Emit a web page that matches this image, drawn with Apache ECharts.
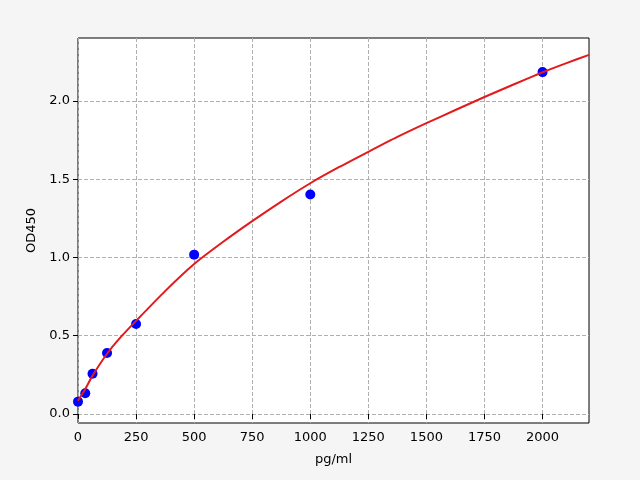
<!DOCTYPE html>
<html>
<head>
<meta charset="utf-8">
<script src="https://cdn.jsdelivr.net/npm/echarts@6/dist/echarts.min.js"></script>
<style>
  html, body { margin: 0; padding: 0; background: #f5f5f5; }
  #main { width: 640px; height: 480px; }
</style>
</head>
<body>
<div id="main"></div>
<script>
// 标准品浓度和读数
var conc = [0, 31.25, 62.5, 125, 250, 500, 1000, 2000];
var od = [0.079, 0.133, 0.257, 0.39, 0.575, 1.018, 1.402, 2.184];

// 拟合曲线
var fitX = [0, 31.25, 62.5, 125, 187.5, 250, 375, 500, 625, 750, 875, 1000, 1125, 1250,
    1375, 1500, 1625, 1750, 1875, 2000, 2100, 2200];
var fitY = [0.085, 0.16, 0.245, 0.385, 0.497, 0.595, 0.785, 0.958, 1.1, 1.232, 1.357, 1.474, 1.578, 1.675,
    1.77, 1.858, 1.942, 2.025, 2.105, 2.183, 2.24, 2.294];

var xTicks = [0, 250, 500, 750, 1000, 1250, 1500, 1750, 2000];
var yTicks = [0, 0.5, 1.0, 1.5, 2.0];

var font = 'DejaVu Sans';

var chart = echarts.init(document.getElementById('main'));

var points = conc.map(function(c, i) { return [c, od[i]]; });
var curve = fitX.map(function(c, i) { return [c, fitY[i]]; });

var option = {
    backgroundColor: '#f5f5f5',
    animation: false,
    grid: {
        left: 78,
        right: 51,
        top: 38,
        bottom: 57,
        show: true,
        backgroundColor: '#fff',
        borderColor: '#000',
        borderWidth: 1
    },
    xAxis: {
        type: 'value',
        min: 0,
        max: 2200,
        name: 'pg/ml',
        nameLocation: 'middle',
        nameGap: 30,
        nameTextStyle: { color: '#000', fontFamily: font, fontSize: 13 },
        axisLine: { show: false },
        axisTick: {
            show: true, inside: false, length: 5,
            lineStyle: { color: '#000' },
            customValues: xTicks
        },
        axisLabel: {
            color: '#000', fontFamily: font, fontSize: 13, margin: 8,
            customValues: xTicks,
            formatter: function(v) { return String(v); }
        },
        splitLine: {
            show: true,
            lineStyle: { color: '#b0b0b0', type: [4, 2], width: 1 }
        }
    },
    yAxis: {
        type: 'value',
        min: -0.0575,
        max: 2.402,
        name: 'OD450',
        nameLocation: 'middle',
        nameGap: 40,
        nameRotate: 90,
        nameTextStyle: { color: '#000', fontFamily: font, fontSize: 13 },
        axisLine: { show: false },
        axisTick: {
            show: true, inside: false, length: 5,
            lineStyle: { color: '#000' },
            customValues: yTicks
        },
        axisLabel: {
            color: '#000', fontFamily: font, fontSize: 13, margin: 8,
            customValues: yTicks,
            formatter: function(v) { return v.toFixed(1); }
        },
        splitLine: {
            show: true,
            lineStyle: { color: '#b0b0b0', type: [4, 2], width: 1 }
        }
    },
    series: [{
        type: 'scatter',
        data: points,
        symbol: 'circle',
        symbolSize: 10,
        itemStyle: { color: '#0000ff', opacity: 1 },
        z: 2
    }, {
        type: 'line',
        data: curve,
        smooth: 0.2,
        showSymbol: false,
        lineStyle: { color: '#e31a1c', width: 2 },
        z: 3
    }]
};

chart.setOption(option);
</script>
</body>
</html>
